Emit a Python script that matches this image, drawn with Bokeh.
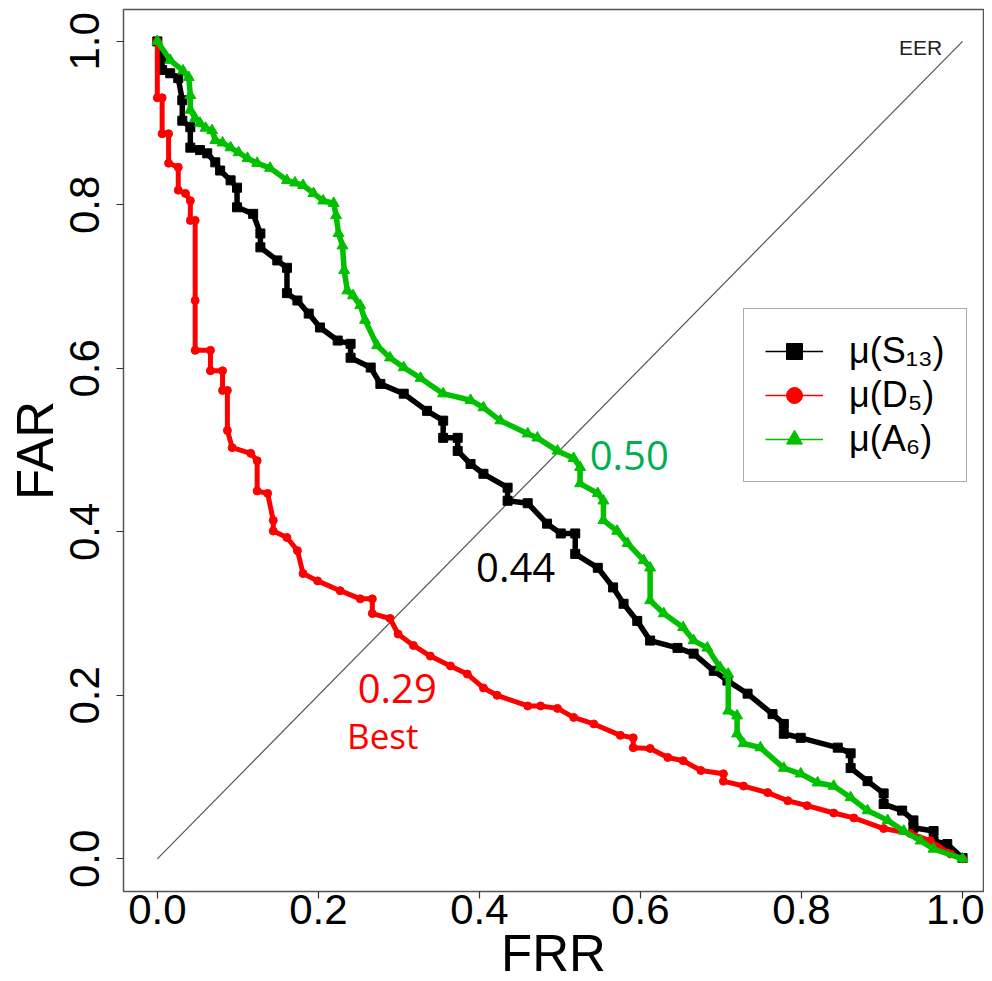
import math
from bokeh.plotting import figure
from bokeh.models import ColumnDataSource, Label, Legend, LegendItem, FixedTicker
from bokeh.embed import file_html
from bokeh.resources import INLINE

# ---------------- data ----------------
tick_values = [0.0, 0.2, 0.4, 0.6, 0.8, 1.0]
tick_labels = ["0.0", "0.2", "0.4", "0.6", "0.8", "1.0"]
series_names = ["μ(S₁₃)", "μ(D₅)", "μ(A₆)"]
eer_values = ["0.50", "0.44", "0.29"]
eer_line_x = [0.0, 1.0]
eer_line_y = [0.0, 1.0]

s13_frr = [0.000, 0.006, 0.006, 0.016, 0.026, 0.031, 0.031, 0.041, 0.041, 0.053,
           0.062, 0.072, 0.078, 0.091, 0.099, 0.099, 0.119, 0.128, 0.128, 0.149,
           0.161, 0.161, 0.174, 0.188, 0.202, 0.224, 0.240, 0.240, 0.265, 0.277,
           0.306, 0.335, 0.355, 0.355, 0.373, 0.373, 0.389, 0.405, 0.435, 0.435,
           0.460, 0.484, 0.501, 0.519, 0.519, 0.547, 0.566, 0.579, 0.596, 0.612,
           0.646, 0.666, 0.691, 0.708, 0.733, 0.764, 0.778, 0.778, 0.799, 0.845,
           0.861, 0.861, 0.882, 0.902, 0.902, 0.925, 0.939, 0.939, 0.964, 0.964,
           0.981, 1.000]
s13_far = [1.000, 0.980, 0.965, 0.961, 0.955, 0.928, 0.903, 0.895, 0.870, 0.867,
           0.863, 0.852, 0.842, 0.830, 0.821, 0.797, 0.789, 0.765, 0.748, 0.732,
           0.723, 0.692, 0.683, 0.667, 0.650, 0.634, 0.630, 0.613, 0.601, 0.581,
           0.569, 0.548, 0.536, 0.515, 0.515, 0.499, 0.483, 0.471, 0.454, 0.438,
           0.435, 0.410, 0.398, 0.398, 0.373, 0.356, 0.332, 0.312, 0.291, 0.267,
           0.258, 0.251, 0.230, 0.218, 0.202, 0.177, 0.165, 0.153, 0.148, 0.136,
           0.129, 0.111, 0.095, 0.080, 0.067, 0.059, 0.047, 0.038, 0.034, 0.022,
           0.018, 0.001]

d5_frr = [0.000, 0.000, 0.006, 0.006, 0.014, 0.014, 0.026, 0.026, 0.035, 0.041,
          0.041, 0.047, 0.047, 0.047, 0.066, 0.066, 0.081, 0.081, 0.087, 0.087,
          0.093, 0.116, 0.124, 0.124, 0.137, 0.144, 0.144, 0.161, 0.174, 0.181,
          0.199, 0.227, 0.252, 0.267, 0.267, 0.289, 0.299, 0.318, 0.339, 0.364,
          0.385, 0.405, 0.422, 0.460, 0.476, 0.497, 0.517, 0.542, 0.575, 0.591,
          0.591, 0.612, 0.634, 0.653, 0.675, 0.703, 0.703, 0.728, 0.758, 0.783,
          0.807, 0.840, 0.865, 0.902, 0.935, 0.960, 0.985, 1.000]
d5_far = [1.000, 0.931, 0.931, 0.887, 0.887, 0.851, 0.846, 0.818, 0.814, 0.805,
          0.781, 0.781, 0.683, 0.622, 0.622, 0.597, 0.597, 0.573, 0.573, 0.524,
          0.503, 0.496, 0.487, 0.450, 0.447, 0.414, 0.401, 0.393, 0.377, 0.349,
          0.340, 0.328, 0.318, 0.318, 0.300, 0.294, 0.275, 0.261, 0.248, 0.236,
          0.226, 0.209, 0.200, 0.187, 0.187, 0.184, 0.173, 0.165, 0.151, 0.148,
          0.136, 0.135, 0.124, 0.120, 0.108, 0.104, 0.095, 0.089, 0.081, 0.071,
          0.065, 0.056, 0.050, 0.037, 0.031, 0.022, 0.006, 0.000]

a6_frr = [0.000, 0.016, 0.032, 0.039, 0.041, 0.041, 0.047, 0.053, 0.060, 0.068,
          0.072, 0.081, 0.091, 0.101, 0.112, 0.124, 0.140, 0.161, 0.171, 0.181,
          0.194, 0.206, 0.219, 0.222, 0.225, 0.230, 0.232, 0.236, 0.243, 0.252,
          0.258, 0.273, 0.289, 0.306, 0.327, 0.355, 0.389, 0.405, 0.426, 0.460,
          0.472, 0.497, 0.517, 0.525, 0.525, 0.547, 0.554, 0.554, 0.571, 0.584,
          0.604, 0.612, 0.612, 0.629, 0.653, 0.666, 0.683, 0.699, 0.709, 0.709,
          0.720, 0.720, 0.728, 0.749, 0.778, 0.799, 0.820, 0.840, 0.861, 0.882,
          0.907, 0.927, 0.948, 0.964, 1.000]
a6_far = [1.000, 0.977, 0.964, 0.956, 0.934, 0.916, 0.906, 0.900, 0.894, 0.891,
          0.879, 0.876, 0.870, 0.864, 0.857, 0.851, 0.845, 0.830, 0.827, 0.824,
          0.814, 0.805, 0.802, 0.787, 0.765, 0.750, 0.720, 0.695, 0.689, 0.677,
          0.659, 0.628, 0.613, 0.601, 0.588, 0.569, 0.561, 0.552, 0.536, 0.520,
          0.515, 0.499, 0.490, 0.479, 0.459, 0.447, 0.438, 0.414, 0.401, 0.386,
          0.365, 0.356, 0.316, 0.300, 0.283, 0.267, 0.258, 0.234, 0.226, 0.181,
          0.175, 0.153, 0.141, 0.136, 0.111, 0.104, 0.093, 0.089, 0.075, 0.059,
          0.047, 0.034, 0.022, 0.012, 0.000]

BLACK = "#000000"
RED = "#FF0000"
GREEN = "#00C000"
LABEL_GREEN = "#00B050"

# ---------------- figure ----------------
p = figure(frame_width=860, frame_height=882,
           min_border_left=123, min_border_right=1, min_border_top=9, min_border_bottom=89,
           x_range=(-0.042, 1.026), y_range=(-0.040, 1.039),
           output_backend="svg", toolbar_location=None, tools="")
p.grid.visible = False
p.outline_line_color = "#555555"
p.outline_line_width = 1.5
p.background_fill_color = "white"
p.border_fill_color = "white"

overrides = {v: t for v, t in zip(tick_values, tick_labels)}
for ax in (p.xaxis[0], p.yaxis[0]):
    ax.ticker = FixedTicker(ticks=tick_values)
    ax.major_label_overrides = overrides
    ax.axis_line_color = None
    ax.major_tick_in = 0
    ax.major_tick_out = 7
    ax.major_tick_line_color = "#333333"
    ax.major_tick_line_width = 1.2
    ax.minor_tick_line_color = None
    ax.major_label_text_font = "Liberation Sans"
    ax.major_label_text_font_size = "42px"
    ax.major_label_text_color = "#000000"
    ax.axis_label_text_font = "Liberation Sans"
    ax.axis_label_text_font_size = "51px"
    ax.axis_label_text_font_style = "normal"
    ax.axis_label_text_color = "#000000"

p.xaxis[0].axis_label = "FRR"
p.xaxis[0].major_label_standoff = -4
p.xaxis[0].axis_label_standoff = -2
p.yaxis[0].axis_label = "FAR"
p.yaxis[0].major_label_orientation = "vertical"
p.yaxis[0].major_label_standoff = 17
p.yaxis[0].axis_label_standoff = 4

# EER diagonal
p.line(eer_line_x, eer_line_y, line_color="#555555", line_width=1.2)

# curves
p.line(s13_frr, s13_far, line_color=BLACK, line_width=5.5)
p.scatter(s13_frr, s13_far, marker="square", size=9, fill_color=BLACK, line_color=BLACK)
p.line(d5_frr, d5_far, line_color=RED, line_width=5)
p.scatter(d5_frr, d5_far, marker="circle", size=8, fill_color=RED, line_color=RED)
p.line(a6_frr, a6_far, line_color=GREEN, line_width=5.5)
p.scatter(a6_frr, a6_far, marker="triangle", size=11, fill_color=GREEN, line_color=GREEN)

# legend renderers (thin line + marker), one NaN row so the legend can draw them
leg_items = []
for name, col, mk in zip(series_names, [BLACK, RED, GREEN], ["square", "circle", "triangle"]):
    src = ColumnDataSource(data=dict(x=[float("nan")], y=[float("nan")]))
    lr = p.line("x", "y", source=src, line_color=col, line_width=1.5)
    sr = p.scatter("x", "y", source=src, marker=mk, size=16, fill_color=col, line_color=col)
    leg_items.append(LegendItem(label=name, renderers=[lr, sr]))

legend = Legend(items=leg_items, location=(620, 409),
                glyph_width=58, glyph_height=40, label_height=40,
                spacing=2, padding=21, label_standoff=26,
                label_text_font="Liberation Sans", label_text_font_size="36px",
                label_text_color="#000000",
                border_line_color="#555555", border_line_width=1.5,
                background_fill_color="white", background_fill_alpha=1.0)
p.add_layout(legend)

# annotations
ann_font = "Open Sans"
p.add_layout(Label(x=0.586, y=0.493, text=eer_values[0], text_color=LABEL_GREEN,
                   text_font=ann_font, text_font_size="40px",
                   text_align="center", text_baseline="middle"))
p.add_layout(Label(x=0.445, y=0.356, text=eer_values[1], text_color="#000000",
                   text_font=ann_font, text_font_size="40px",
                   text_align="center", text_baseline="middle"))
p.add_layout(Label(x=0.298, y=0.208, text=eer_values[2], text_color="#FF0000",
                   text_font=ann_font, text_font_size="40px",
                   text_align="center", text_baseline="middle"))
p.add_layout(Label(x=0.280, y=0.151, text="Best", text_color="#FF0000",
                   text_font=ann_font, text_font_size="35px",
                   text_align="center", text_baseline="middle"))
p.add_layout(Label(x=0.948, y=0.993, text="EER", text_color="#222222",
                   text_font="Liberation Sans", text_font_size="21px",
                   text_align="center", text_baseline="middle"))

open("out.html", "w").write(file_html(p, INLINE))
